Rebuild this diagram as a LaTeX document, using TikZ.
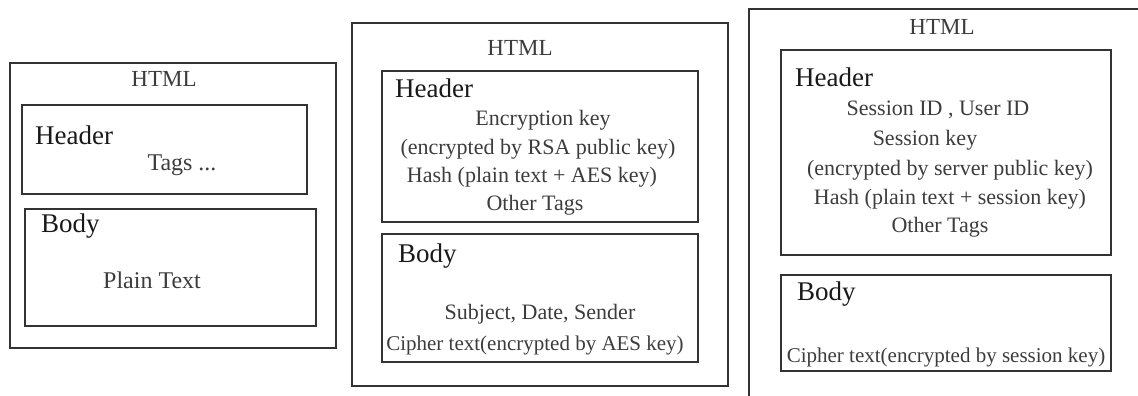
\documentclass[tikz,border=0pt]{standalone}
\usepackage{fontspec}
\setmainfont{Liberation Serif}
\definecolor{linegray}{HTML}{333333}
\definecolor{textgray}{HTML}{3C3C3C}
\begin{document}
\begin{tikzpicture}[x=1pt,y=-1pt,
  frame/.style={draw=linegray,line width=1.4pt},
  part/.style={draw=linegray,line width=1.4pt,inner sep=0pt},
  title/.style={inner sep=0pt,anchor=mid,text=textgray,font=\fontsize{23}{26}\selectfont},
  section/.style={inner sep=0pt,anchor=base west,text=black!90,font=\fontsize{27}{30}\selectfont},
  big/.style={inner sep=0pt,anchor=mid,text=textgray,font=\fontsize{24}{27}\selectfont},
  line/.style={inner sep=0pt,anchor=mid,text=textgray,font=\fontsize{22}{25}\selectfont},
  small/.style={inner sep=0pt,anchor=mid,text=textgray,font=\fontsize{21}{24}\selectfont}]
\useasboundingbox (0,0) rectangle (1138,396);

% ---------- plain message ----------
\draw[frame] (10,63) rectangle (336,348);
\node[title] (t1) at (164,84) {HTML};
\draw[frame] (22,105) rectangle (307,194);
\node[section] (h1) at (35,144) {Header};
\node[big] (g1) at (182,168) {Tags ...};
\draw[frame] (25,209) rectangle (316,326);
\node[section] (b1) at (41,232) {Body};
\node[big] (p1) at (152,286) {Plain Text};

% ---------- AES-encrypted message ----------
\draw[frame] (352,23) rectangle (728,386);
\node[title] (t2) at (520,53) {HTML};
\draw[frame] (382,71) rectangle (698,222);
\node[section] (h2) at (395,98) {Header};
\node[line] (e2) at (543,123) {Encryption key};
\node[line] (r2) at (538,152) {(encrypted by RSA public key)};
\node[line] (s2) at (532,180) {Hash (plain text + AES key)};
\node[line] (o2) at (535,208) {Other Tags};
\draw[frame] (382,234) rectangle (698,362);
\node[section] (b2) at (398,262) {Body};
\node[line] (d2) at (540,317) {Subject, Date, Sender};
\node[small] (c2) at (535,348) {Cipher text(encrypted by AES key)};

% ---------- session-key message ----------
\draw[frame] (749,400) -- (749,9) -- (1142,9);
\node[title] (t3) at (942,32) {HTML};
\draw[frame] (781,50) rectangle (1111,255);
\node[section] (h3) at (795,87) {Header};
\node[line] (i3) at (938,113) {Session ID , User ID};
\node[line] (k3) at (925,143) {Session key};
\node[line] (r3) at (950,173) {(encrypted by server public key)};
\node[line] (s3) at (950,202) {Hash (plain text + session key)};
\node[line] (o3) at (940,230) {Other Tags};
\draw[frame] (781,275) rectangle (1111,371);
\node[section] (b3) at (797,300) {Body};
\node[small] (c3) at (946,360) {Cipher text(encrypted by session key)};
\end{tikzpicture}
\end{document}
